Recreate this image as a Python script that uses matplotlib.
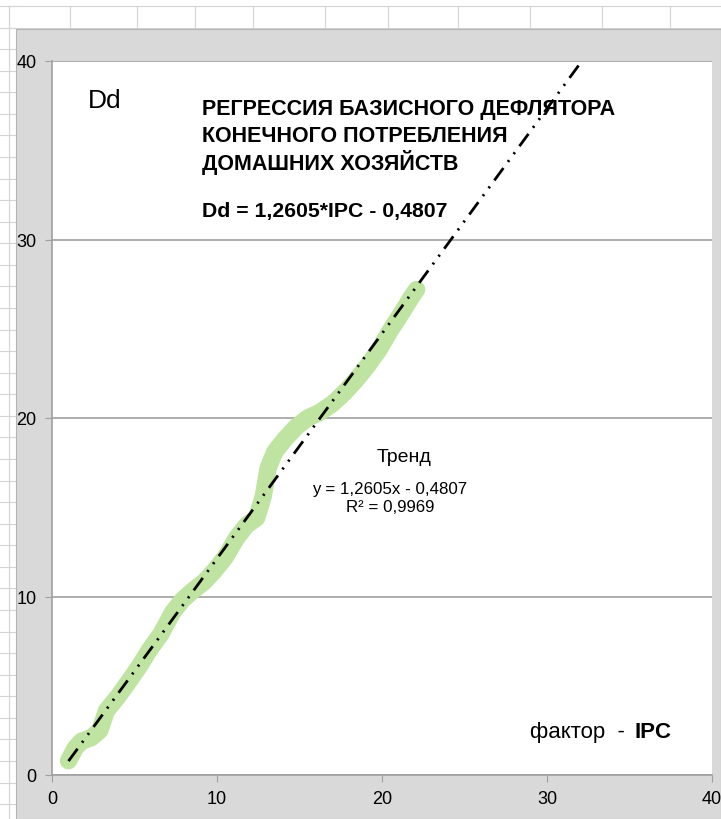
import numpy as np
import matplotlib
matplotlib.use("Agg")
import matplotlib.pyplot as plt
from matplotlib.lines import Line2D
from matplotlib.patches import Rectangle

plt.rcParams['font.family'] = ['Liberation Sans', 'DejaVu Sans']
plt.rcParams['lines.scale_dashes'] = False

# Фактор IPC и базисный дефлятор Dd
ipc = [1.0, 1.4, 1.8, 2.4, 2.9, 3.3, 4.0, 4.7, 5.3, 5.9, 6.6, 7.3, 7.9, 8.5,
       9.2, 9.8, 10.5, 11.2, 11.8, 12.4, 12.8, 13.1, 13.5, 14.1, 14.8,
       15.5, 16.2, 17.0, 17.7, 18.4, 19.1, 19.8, 20.5, 21.2, 21.8, 22.1]
dd = [0.8, 1.5, 1.9, 2.1, 2.5, 3.6, 4.4, 5.3, 6.1, 7.0, 7.9, 9.1, 9.8, 10.3,
      10.8, 11.4, 12.2, 13.3, 14.0, 14.4, 15.6, 17.2, 18.1, 18.8, 19.5,
      20.0, 20.3, 20.8, 21.4, 22.1, 22.9, 23.8, 24.9, 25.9, 26.8, 27.2]

slope = 1.2605
intercept = -0.4807
r2 = 0.9969

ticks = [0, 10, 20, 30, 40]

title_lines = ['РЕГРЕССИЯ БАЗИСНОГО ДЕФЛЯТОРА',
               'КОНЕЧНОГО ПОТРЕБЛЕНИЯ',
               'ДОМАШНИХ ХОЗЯЙСТВ']

fig = plt.figure(figsize=(7.21, 8.2), dpi=100)
W, H = 721, 820

# сетка листа Excel вокруг диаграммы
cell = '#d4d4d4'
for y in [7, 29]:
    fig.add_artist(Line2D([9 / W, 1], [1 - y / H] * 2, color=cell, lw=0.8, zorder=-2))
for x in [9, 70, 137, 195, 253, 325, 388, 458, 530, 602, 670]:
    fig.add_artist(Line2D([x / W] * 2, [1 - 7 / H, 1 - 29 / H], color=cell, lw=0.8, zorder=-2))
fig.add_artist(Line2D([9 / W] * 2, [0, 1 - 7 / H], color=cell, lw=0.8, zorder=-2))
for k in range(38):
    y = 7 + k * 21.57
    fig.add_artist(Line2D([0, 16 / W], [1 - y / H] * 2, color=cell, lw=0.8, zorder=-2))

# область диаграммы
fig.add_artist(Rectangle((16 / W, 0), 1 - 16 / W, 1 - 30 / H,
                         facecolor='#d9d9d9', edgecolor='#b4b4b4', lw=0.8, zorder=-1))

ax = fig.add_axes([52 / W, 44 / H, 660 / W, 714 / H])
ax.set_facecolor('white')
ax.set_xlim(0, 40)
ax.set_ylim(0, 40)
ax.set_xticks(ticks)
ax.set_yticks(ticks)
ax.tick_params(labelsize=13, length=5, color='#a0a0a0', pad=6)
for s in ['top', 'right']:
    ax.spines[s].set_visible(False)
for s in ['left', 'bottom']:
    ax.spines[s].set_color('#a0a0a0')
    ax.spines[s].set_linewidth(1.2)
ax.yaxis.grid(True, color='#a0a0a0', lw=1.2)
ax.set_axisbelow(True)

ax.plot(ipc, dd, color='#bfe3a0', lw=12.5, solid_capstyle='round',
        solid_joinstyle='round', zorder=2)

xt = np.array([ipc[0], 33.0])
ax.plot(xt, slope * xt + intercept, color='black', lw=2,
        dashes=(11, 5.5, 1.5, 5.5, 1.5, 5.5), zorder=3)


def label(x, y, s, **kw):
    # подписи в пикселях от левого верхнего угла
    fig.text(x / W, 1 - y / H, s, **kw)


label(88, 101, 'Dd', fontsize=19, va='center')
for i, line in enumerate(title_lines):
    label(202, 109 + 27 * i, line, fontsize=15.5, fontweight='bold', va='center')
label(202, 212, f'Dd = {slope:.4f}*IPC - {-intercept:.4f}'.replace('.', ','),
      fontsize=15.3, fontweight='bold', va='center')
label(404, 457, 'Тренд', fontsize=14, ha='center', va='center')
label(390, 490, f'y = {slope:.4f}x - {-intercept:.4f}'.replace('.', ','),
      fontsize=12.2, ha='center', va='center')
label(390, 508, f'R² = {r2:.4f}'.replace('.', ','),
      fontsize=12.2, ha='center', va='center')
label(530, 733, 'фактор  -', fontsize=16, va='center')
label(634, 733, 'IPC', fontsize=16, fontweight='bold', va='center')

fig.savefig('out.png', dpi=100)
